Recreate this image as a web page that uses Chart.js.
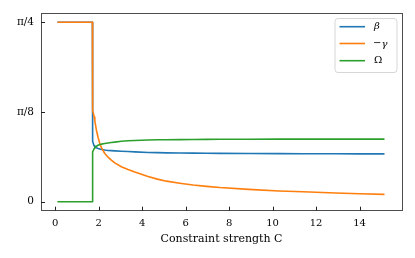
<!DOCTYPE html>
<html>
<head>
<meta charset="utf-8">
<script src="https://cdn.jsdelivr.net/npm/chart.js@4.4.1/dist/chart.umd.min.js"></script>
<style>
html,body{margin:0;padding:0;background:#fff;}
#wrap{width:415px;height:258px;position:relative;}
</style>
</head>
<body>
<div id="wrap"><canvas id="c" width="415" height="258"></canvas></div>
<script>
// ---- data ----
const C = [0.1, 1.71, 1.71, 1.73, 1.76, 1.79, 1.82, 1.895, 1.97, 2.05, 2.12, 2.28, 2.43, 2.58, 2.74, 3.04, 3.35, 3.66, 4.27, 4.7, 5.12, 5.73, 6.34, 6.96, 7.57, 8.9, 10.3, 11.4, 12.9, 14.0, 15.15];
const beta = [0.7854, 0.7854, 0.285, 0.265, 0.252, 0.245, 0.240, 0.236, 0.233, 0.231, 0.229, 0.2265, 0.2245, 0.2235, 0.2225, 0.221, 0.2195, 0.218, 0.2155, 0.2148, 0.214, 0.213, 0.2125, 0.212, 0.2115, 0.211, 0.2105, 0.210, 0.2097, 0.2095, 0.2094];
const negGamma = [0.7854, 0.7854, 0.41, 0.398, 0.385, 0.371, 0.355, 0.313, 0.282, 0.255, 0.238, 0.211, 0.195, 0.182, 0.170, 0.153, 0.141, 0.130, 0.110, 0.099, 0.090, 0.081, 0.073, 0.067, 0.062, 0.054, 0.047, 0.0435, 0.038, 0.035, 0.032];
const omega = [0, 0, 0.205, 0.218, 0.226, 0.233, 0.238, 0.243, 0.247, 0.250, 0.252, 0.255, 0.257, 0.259, 0.261, 0.265, 0.267, 0.268, 0.270, 0.271, 0.2715, 0.272, 0.2725, 0.273, 0.2733, 0.2737, 0.274, 0.274, 0.274, 0.274, 0.274];
const xTickValues = [0, 2, 4, 6, 8, 10, 12, 14];
const yTickValues = [0, 0.3927, 0.7854];
const yTickLabels = ['0', 'π/8', 'π/4'];
const seriesNames = ['β', '−γ', 'Ω'];
const xTitle = 'Constraint strength C';

const COLORS = ['#1f77b4', '#ff7f0e', '#2ca02c'];
const FONT = "'DejaVu Serif', 'Liberation Serif', serif";
const SPINE = '#4d4d4d';

function pts(ys) { return C.map((x, i) => ({x: x, y: ys[i]})); }

const boxPlugin = {
  id: 'box',
  afterDatasetsDraw(chart) {
    const ctx = chart.ctx, a = chart.chartArea;
    const xs = chart.scales.x, ys = chart.scales.y;
    ctx.save();
    // spines
    ctx.strokeStyle = SPINE;
    ctx.lineWidth = 1;
    ctx.strokeRect(Math.round(a.left) + 0.5, Math.round(a.top) + 0.5, Math.round(a.right - a.left), Math.round(a.bottom - a.top));
    // inward ticks
    ctx.strokeStyle = '#222';
    ctx.beginPath();
    xTickValues.forEach(v => {
      const px = Math.round(xs.getPixelForValue(v)) + 0.5;
      ctx.moveTo(px, a.bottom); ctx.lineTo(px, a.bottom - 4);
    });
    yTickValues.forEach(v => {
      const py = Math.round(ys.getPixelForValue(v)) + 0.5;
      ctx.moveTo(a.left, py); ctx.lineTo(a.left + 4, py);
    });
    ctx.stroke();
    // legend
    const bx = 335, by = 18.5, bw = 62, bh = 54, r = 3;
    ctx.globalAlpha = 0.8;
    ctx.fillStyle = '#fff';
    ctx.strokeStyle = '#cccccc';
    ctx.beginPath();
    ctx.moveTo(bx + r, by);
    ctx.arcTo(bx + bw, by, bx + bw, by + bh, r);
    ctx.arcTo(bx + bw, by + bh, bx, by + bh, r);
    ctx.arcTo(bx, by + bh, bx, by, r);
    ctx.arcTo(bx, by, bx + bw, by, r);
    ctx.closePath();
    ctx.fill(); ctx.stroke();
    ctx.globalAlpha = 1;
    const rows = [26.7, 43.5, 60.7];
    rows.forEach((ry, i) => {
      ctx.strokeStyle = COLORS[i];
      ctx.lineWidth = 1.6;
      ctx.beginPath();
      ctx.moveTo(339.5, ry); ctx.lineTo(365, ry);
      ctx.stroke();
      ctx.fillStyle = '#000';
      ctx.textBaseline = 'middle';
      ctx.textAlign = 'left';
      const name = seriesNames[i];
      if (name === '−γ') {
        ctx.font = '10px ' + FONT;
        ctx.fillText('−', 373, ry);
        const w = ctx.measureText('−').width;
        ctx.font = 'italic 10px ' + FONT;
        ctx.fillText('γ', 373 + w, ry + 1);
      } else if (name === 'β') {
        ctx.font = 'italic 10px ' + FONT;
        ctx.fillText(name, 374, ry);
      } else {
        ctx.font = '10px ' + FONT;
        ctx.fillText(name, 374, ry);
      }
    });
    ctx.restore();
  }
};

new Chart(document.getElementById('c'), {
  type: 'line',
  data: {
    datasets: [
      {label: seriesNames[0], data: pts(beta), borderColor: COLORS[0], order: 2},
      {label: seriesNames[1], data: pts(negGamma), borderColor: COLORS[1], order: 1},
      {label: seriesNames[2], data: pts(omega), borderColor: COLORS[2], order: 0}
    ]
  },
  options: {
    responsive: false,
    animation: false,
    devicePixelRatio: 1,
    layout: {padding: {left: 0, right: 13, top: 12.7, bottom: 12}},
    elements: {
      point: {radius: 0},
      line: {borderWidth: 1.6, tension: 0, fill: false, borderCapStyle: 'butt', borderJoinStyle: 'round'}
    },
    plugins: {legend: {display: false}, tooltip: {enabled: false}},
    scales: {
      x: {
        type: 'linear',
        min: -0.655, max: 15.955,
        afterBuildTicks: s => { s.ticks = xTickValues.map(v => ({value: v})); },
        afterFit: s => { s.height = 35.3; },
        grid: {display: false, drawTicks: false},
        border: {display: false},
        ticks: {color: '#000', font: {family: FONT, size: 10}, padding: 7, maxRotation: 0,
                callback: v => String(v)},
        title: {display: true, text: xTitle, color: '#000', font: {family: FONT, size: 11}, padding: {top: 4, bottom: 0}}
      },
      y: {
        type: 'linear',
        min: -0.03927, max: 0.82467,
        afterBuildTicks: s => { s.ticks = yTickValues.map(v => ({value: v})); },
        afterFit: s => { s.width = 41; },
        grid: {display: false, drawTicks: false},
        border: {display: false},
        ticks: {color: '#000', font: {family: FONT, size: 10.5}, padding: 7,
                callback: (v, i) => yTickLabels[i]}
      }
    }
  },
  plugins: [boxPlugin]
});
</script>
</body>
</html>
